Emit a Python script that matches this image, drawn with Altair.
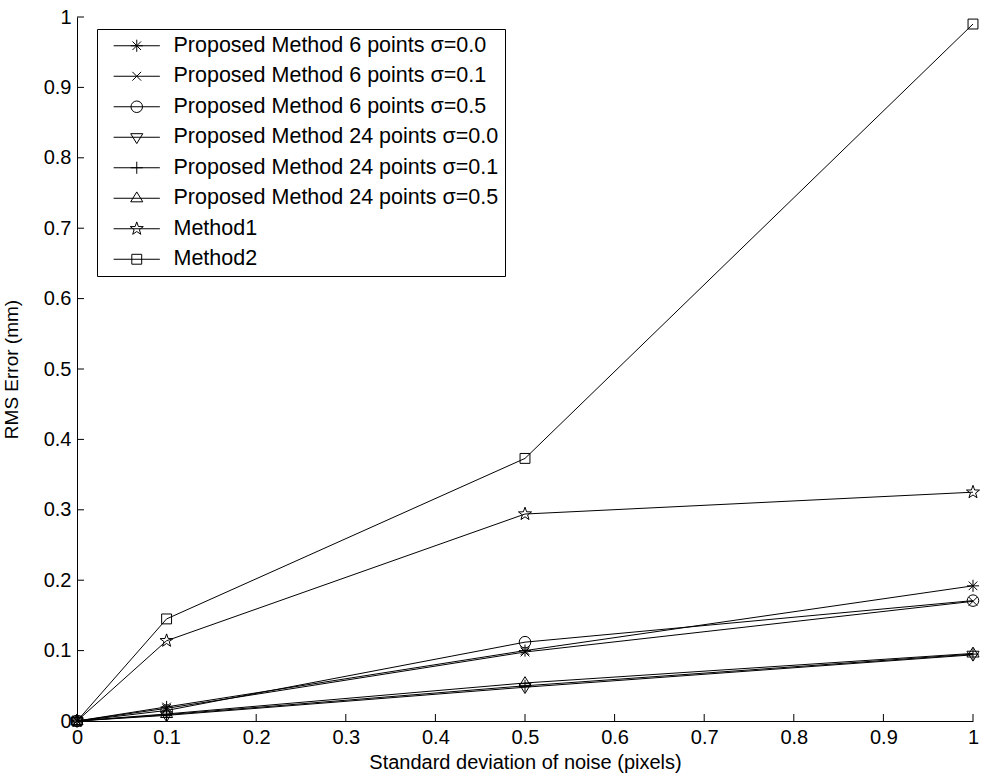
import math
import altair as alt
import pandas as pd

# ---------------- data ----------------
x_vals = [0.0, 0.1, 0.5, 1.0]
series_names = [
    "Proposed Method 6 points σ=0.0",
    "Proposed Method 6 points σ=0.1",
    "Proposed Method 6 points σ=0.5",
    "Proposed Method 24 points σ=0.0",
    "Proposed Method 24 points σ=0.1",
    "Proposed Method 24 points σ=0.5",
    "Method1",
    "Method2",
]
pm6_s00 = [0.0, 0.020, 0.100, 0.192]
pm6_s01 = [0.0, 0.018, 0.098, 0.170]
pm6_s05 = [0.0, 0.015, 0.112, 0.171]
pm24_s00 = [0.0, 0.008, 0.048, 0.094]
pm24_s01 = [0.0, 0.009, 0.050, 0.095]
pm24_s05 = [0.0, 0.010, 0.054, 0.096]
method1 = [0.0, 0.114, 0.294, 0.325]
method2 = [0.0, 0.145, 0.373, 0.990]
series_values = [pm6_s00, pm6_s01, pm6_s05, pm24_s00, pm24_s01, pm24_s05, method1, method2]

x_tick_values = [0, 0.1, 0.2, 0.3, 0.4, 0.5, 0.6, 0.7, 0.8, 0.9, 1]
y_tick_values = [0, 0.1, 0.2, 0.3, 0.4, 0.5, 0.6, 0.7, 0.8, 0.9, 1]

x_title = "Standard deviation of noise (pixels)"
y_title = "RMS Error (mm)"

rows = []
for name, vals in zip(series_names, series_values):
    for xv, yv in zip(x_vals, vals):
        rows.append({"series": name, "x": xv, "y": yv})
df = pd.DataFrame(rows)
df_xt = pd.DataFrame({"t": x_tick_values})
df_yt = pd.DataFrame({"t": y_tick_values})

# ---------------- marker shapes (unit paths) ----------------
def fmt(v):
    return f"{v:.3f}".rstrip("0").rstrip(".") if v != 0 else "0"

def star_path(R=1.25, r=0.5):
    pts = []
    for i in range(10):
        ang = -math.pi / 2 + i * math.pi / 5
        rad = R if i % 2 == 0 else r
        pts.append((rad * math.cos(ang), rad * math.sin(ang)))
    return "M" + "L".join(f"{fmt(px)},{fmt(py)}" for px, py in pts) + "Z"

shape_asterisk = "M-1.1,0H1.1M0,-1.1V1.1M-0.78,-0.78L0.78,0.78M-0.78,0.78L0.78,-0.78"
shape_x = "M-0.8,-0.8L0.8,0.8M-0.8,0.8L0.8,-0.8"
shape_circle = "M-1.05,0A1.05,1.05,0,1,1,1.05,0A1.05,1.05,0,1,1,-1.05,0Z"
shape_tri_down = "M-1.1,-0.65L1.1,-0.65L0,1.15Z"
shape_plus = "M-1.1,0H1.1M0,-1.1V1.1"
shape_tri_up = "M-1.1,0.65L1.1,0.65L0,-1.15Z"
shape_star = star_path()
shape_square = "M-0.9,-0.9H0.9V0.9H-0.9Z"
plot_shapes = [shape_asterisk, shape_x, shape_circle, shape_tri_down,
               shape_plus, shape_tri_up, shape_star, shape_square]
legend_line = "M-4.2,0H4.2"
legend_shapes = [legend_line + s for s in plot_shapes]

FONT = "Liberation Sans"

xscale = alt.Scale(domain=[0, 1], nice=False, zero=False)
yscale = alt.Scale(domain=[0, 1], nice=False, zero=False)

base = alt.Chart(df)

lines = base.mark_line(color="black", strokeWidth=1).encode(
    x=alt.X("x:Q", scale=xscale,
            axis=alt.Axis(values=x_tick_values, format=".1~f", title=x_title, tickSize=0,
                          labelPadding=6, titlePadding=5, grid=False,
                          domainColor="black", labelFontSize=20, titleFontSize=20,
                          labelFont=FONT, titleFont=FONT, titleFontWeight="normal",
                          labelColor="black", titleColor="black", labelFlush=False)),
    y=alt.Y("y:Q", scale=yscale,
            axis=alt.Axis(values=y_tick_values, format=".1~f", title=y_title, tickSize=0,
                          labelPadding=6, titlePadding=22, grid=False,
                          domainColor="black", labelFontSize=20, titleFontSize=19,
                          labelFont=FONT, titleFont=FONT, titleFontWeight="normal",
                          labelColor="black", titleColor="black", labelFlush=False)),
    detail="series:N",
    order="x:Q",
)

points = base.mark_point(filled=False, stroke="black", strokeWidth=1, size=121, opacity=1).encode(
    x=alt.X("x:Q", scale=xscale),
    y=alt.Y("y:Q", scale=yscale),
    shape=alt.Shape("series:N", scale=alt.Scale(domain=series_names, range=plot_shapes), legend=None),
)

legend_layer = base.transform_filter("false").mark_point(
    filled=False, stroke="black", strokeWidth=1, size=121).encode(
    x=alt.X("x:Q", scale=xscale),
    y=alt.Y("y:Q", scale=yscale),
    shape=alt.Shape(
        "series:N",
        scale=alt.Scale(domain=series_names, range=legend_shapes),
        legend=alt.Legend(
            title=None, orient="none", legendX=20, legendY=12,
            strokeColor="black", fillColor="white", padding=6,
            symbolSize=121, symbolStrokeWidth=1, symbolStrokeColor="black",
            symbolFillColor="transparent", symbolOpacity=1,
            symbolOffset=23, labelOffset=26, rowPadding=7.5,
            labelFont=FONT, labelFontSize=21.5, labelColor="black",
            labelLimit=0, symbolLimit=0, cornerRadius=0,
        ),
    ),
)

xticks = alt.Chart(df_xt).mark_rule(color="black", strokeWidth=1).encode(
    x=alt.X("t:Q", scale=xscale),
    y=alt.value(704), y2=alt.value(697),
)
yticks = alt.Chart(df_yt).mark_rule(color="black", strokeWidth=1).encode(
    y=alt.Y("t:Q", scale=yscale),
    x=alt.value(0), x2=alt.value(7),
)

chart = alt.layer(xticks, yticks, lines, points, legend_layer).resolve_scale(
    shape="independent"
).properties(
    width=896, height=704,
    padding={"left": 77, "top": 17, "right": 11, "bottom": 58},
    autosize=alt.AutoSizeParams(type="none"),
    background="white",
).configure_view(stroke=None)

chart.save("out.html", embed_options={"renderer": "svg", "actions": False})
